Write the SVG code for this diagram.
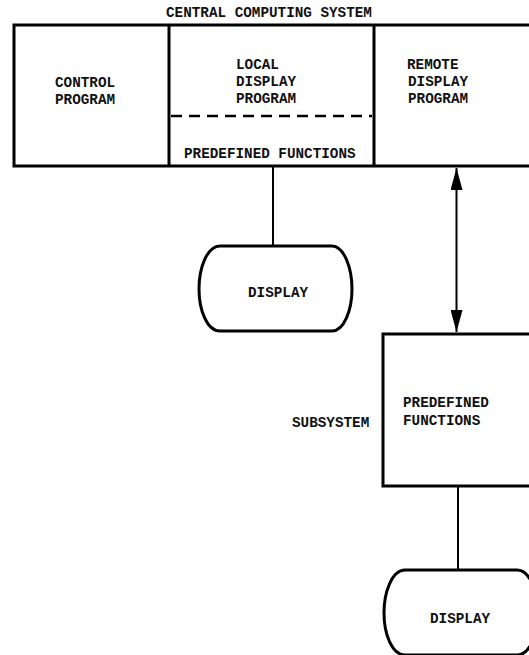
<svg xmlns="http://www.w3.org/2000/svg" width="529" height="655" viewBox="0 0 529 655">
<style>
text{font-family:"Liberation Mono","DejaVu Sans Mono",monospace;font-size:14.3px;font-weight:bold;fill:#111}
.box{fill:none;stroke:#000;stroke-width:3}
.ln{fill:none;stroke:#000;stroke-width:2}
.dash{fill:none;stroke:#000;stroke-width:2.5;stroke-dasharray:11 7}
.mid{text-anchor:middle}
</style>
<defs>
<marker id="arr" viewBox="0 0 22 12" refX="22" refY="6" markerWidth="22" markerHeight="12" markerUnits="userSpaceOnUse" orient="auto-start-reverse">
<path d="M0 0 L22 6 L0 12 Z" fill="#000"/>
</marker>
</defs>
<text class="mid" x="269" y="17">CENTRAL COMPUTING SYSTEM</text>
<g id="central">
<path class="box" d="M529 25 L14 25 L14 166 L529 166"/>
</g>
<g id="control">
<line class="box" x1="169" y1="25" x2="169" y2="166"/>
<text x="55" y="87">CONTROL</text>
<text x="55" y="104">PROGRAM</text>
</g>
<g id="local">
<line class="box" x1="374" y1="25" x2="374" y2="166"/>
<text x="236" y="69">LOCAL</text>
<text x="236" y="86">DISPLAY</text>
<text x="236" y="103">PROGRAM</text>
<line class="dash" x1="171" y1="116" x2="372" y2="116"/>
<text x="184" y="158">PREDEFINED FUNCTIONS</text>
</g>
<g id="remote">
<text x="407" y="69">REMOTE</text>
<text x="408" y="86">DISPLAY</text>
<text x="408" y="103">PROGRAM</text>
</g>
<g id="display1">
<path class="box" d="M220 246 L332 246 C344 246 352 268 352 289 C352 310 344 331 332 331 L220 331 C207 331 199 310 199 289 C199 268 207 246 220 246 Z"/>
<text x="248" y="297">DISPLAY</text>
</g>
<g id="subsystem">
<path class="box" d="M529 334 L383 334 L383 486 L529 486"/>
<text x="403" y="407">PREDEFINED</text>
<text x="403" y="425">FUNCTIONS</text>
<text x="292" y="427">SUBSYSTEM</text>
</g>
<g id="display2">
<path class="box" d="M405 570 L517 570 C530 570 538 592 538 613 C538 634 530 655 517 655 L405 655 C392 655 384 634 384 613 C384 592 392 570 405 570 Z"/>
<text x="430" y="623">DISPLAY</text>
</g>
<g id="connectors">
<line class="ln" x1="273" y1="167" x2="273" y2="245"/>
<line class="ln" x1="456.5" y1="168" x2="456.5" y2="332" marker-start="url(#arr)" marker-end="url(#arr)"/>
<line class="ln" x1="458" y1="487" x2="458" y2="569"/>
</g>
</svg>
